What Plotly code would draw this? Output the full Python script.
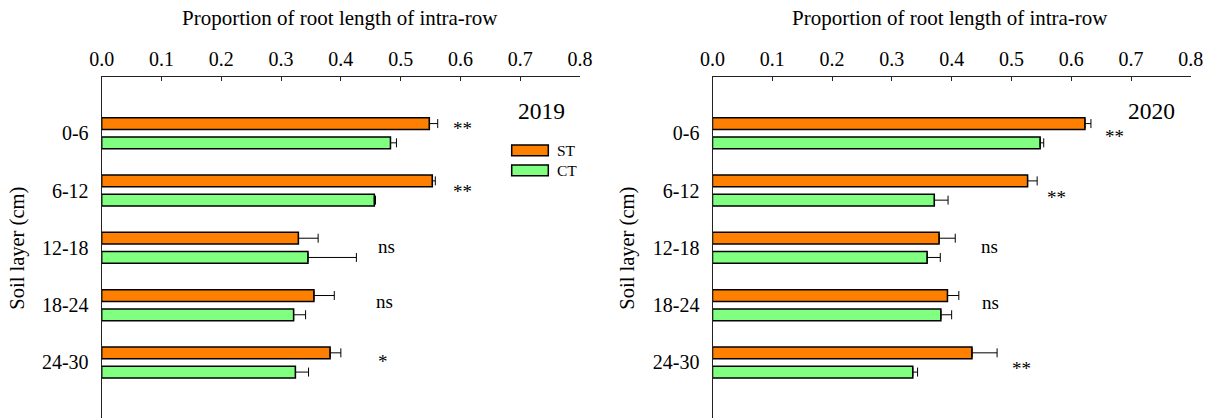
import plotly.graph_objects as go
from plotly.subplots import make_subplots

# Soil layers (cm) and proportion of root length in the intra-row zone
layers = ["0-6", "6-12", "12-18", "18-24", "24-30"]

st_2019 = [0.548, 0.553, 0.329, 0.355, 0.382]
st_2019_err = [0.014, 0.005, 0.033, 0.034, 0.018]
ct_2019 = [0.483, 0.456, 0.345, 0.321, 0.324]
ct_2019_err = [0.010, 0.002, 0.081, 0.020, 0.022]

st_2020 = [0.623, 0.527, 0.379, 0.393, 0.434]
st_2020_err = [0.010, 0.016, 0.027, 0.019, 0.042]
ct_2020 = [0.548, 0.371, 0.359, 0.382, 0.335]
ct_2020_err = [0.006, 0.023, 0.022, 0.018, 0.008]

# Significance marks between ST and CT for each layer
sig_2019 = ["**", "**", "ns", "ns", "*"]
sig_2020 = ["**", "**", "ns", "ns", "**"]
sig_x_2019 = [0.604, 0.604, 0.477, 0.473, 0.471]
sig_y_2019 = [-0.10, 1.00, 1.97, 2.94, 3.96]
sig_x_2020 = [0.672, 0.575, 0.463, 0.465, 0.516]
sig_y_2020 = [0.04, 1.10, 1.98, 2.96, 4.09]

years = ["2019", "2020"]

ORANGE = "#FF8000"
GREEN = "#80FF80"
FONT = "Liberation Serif"
W, H = 1210, 418

fig = make_subplots(rows=1, cols=2)

panels = [
    (st_2019, st_2019_err, ct_2019, ct_2019_err, sig_2019, sig_x_2019, sig_y_2019),
    (st_2020, st_2020_err, ct_2020, ct_2020_err, sig_2020, sig_x_2020, sig_y_2020),
]

for col, (st, st_e, ct, ct_e, sig, sx, sy) in enumerate(panels, start=1):
    for name, vals, errs, color in (("ST", st, st_e, ORANGE), ("CT", ct, ct_e, GREEN)):
        fig.add_trace(
            go.Bar(
                name=name,
                y=layers,
                x=vals,
                orientation="h",
                marker=dict(color=color, line=dict(color="black", width=1.5)),
                error_x=dict(
                    type="data",
                    symmetric=False,
                    array=errs,
                    arrayminus=[0] * len(errs),
                    color="black",
                    thickness=1,
                    width=4.5,
                ),
                showlegend=False,
            ),
            row=1,
            col=col,
        )
    xref = "x" if col == 1 else "x2"
    yref = "y" if col == 1 else "y2"
    for t, xv, yv in zip(sig, sx, sy):
        fig.add_annotation(
            x=xv, y=yv, xref=xref, yref=yref, text=t, showarrow=False,
            xanchor="center", yanchor="middle",
            font=dict(family=FONT, size=19, color="black"),
            yshift=-1 if "*" in t else 0,
        )

x_domains = [[101.7 / W, 580.0 / W], [712.5 / W, 1190.8 / W]]
y_domain = [0, 1 - 77.3 / H]

axis_font = dict(family=FONT, size=20, color="black")
for i, dom in enumerate(x_domains, start=1):
    xa = "xaxis" if i == 1 else "xaxis2"
    ya = "yaxis" if i == 1 else "yaxis2"
    fig.layout[xa].update(
        domain=dom,
        range=[0, 0.8],
        dtick=0.1,
        tickformat=".1f",
        side="top",
        showline=True,
        linecolor="#222",
        linewidth=1.2,
        ticks="inside",
        ticklen=4,
        tickcolor="#222",
        showgrid=False,
        zeroline=False,
        tickfont=axis_font,
        ticklabelstandoff=2,
        automargin=False,
        fixedrange=True,
    )
    fig.layout[ya].update(
        domain=y_domain,
        type="category",
        categoryorder="array",
        categoryarray=layers,
        range=[4.969, -0.9755],
        showline=True,
        linecolor="#222",
        linewidth=1.2,
        ticks="",
        showgrid=False,
        zeroline=False,
        tickfont=axis_font,
        ticklabelstandoff=8,
        automargin=False,
        fixedrange=True,
    )

# Axis titles, year labels and legend key
for off in (0, 610):
    fig.add_annotation(
        x=(340.4 + off) / W, y=1 - 18 / H, xref="paper", yref="paper",
        xanchor="center", yanchor="middle",
        text="Proportion of root length of intra-row", showarrow=False,
        font=dict(family=FONT, size=21, color="black"),
    )
    fig.add_annotation(
        x=(18 + off) / W, y=1 - 248.7 / H, xref="paper", yref="paper",
        xanchor="center", yanchor="middle",
        text="Soil layer (cm)", showarrow=False, textangle=-90,
        font=dict(family=FONT, size=20.5, color="black"),
    )

for yr, xc in zip(years, (541, 1151)):
    fig.add_annotation(
        x=xc / W, y=1 - 111 / H, xref="paper", yref="paper",
        xanchor="center", yanchor="middle",
        text=yr, showarrow=False,
        font=dict(family=FONT, size=23.5, color="black"),
    )

for label, color, top in (("ST", ORANGE, 145), ("CT", GREEN, 165)):
    fig.add_shape(
        type="rect", xref="paper", yref="paper",
        x0=511.7 / W, x1=548.3 / W,
        y0=1 - (top + 10.7) / H, y1=1 - top / H,
        fillcolor=color, line=dict(color="black", width=1.5),
    )
    fig.add_annotation(
        x=554.5 / W, y=1 - (top + 5.3) / H, xref="paper", yref="paper",
        text=label, showarrow=False, xanchor="left", yanchor="middle",
        font=dict(family=FONT, size=15.5, color="black"),
    )

fig.update_layout(
    width=W,
    height=H,
    margin=dict(l=0, r=0, t=0, b=0),
    paper_bgcolor="white",
    plot_bgcolor="white",
    barmode="group",
    bargap=0.328,
    bargroupgap=0.39,
)

fig.write_html("out.html")
